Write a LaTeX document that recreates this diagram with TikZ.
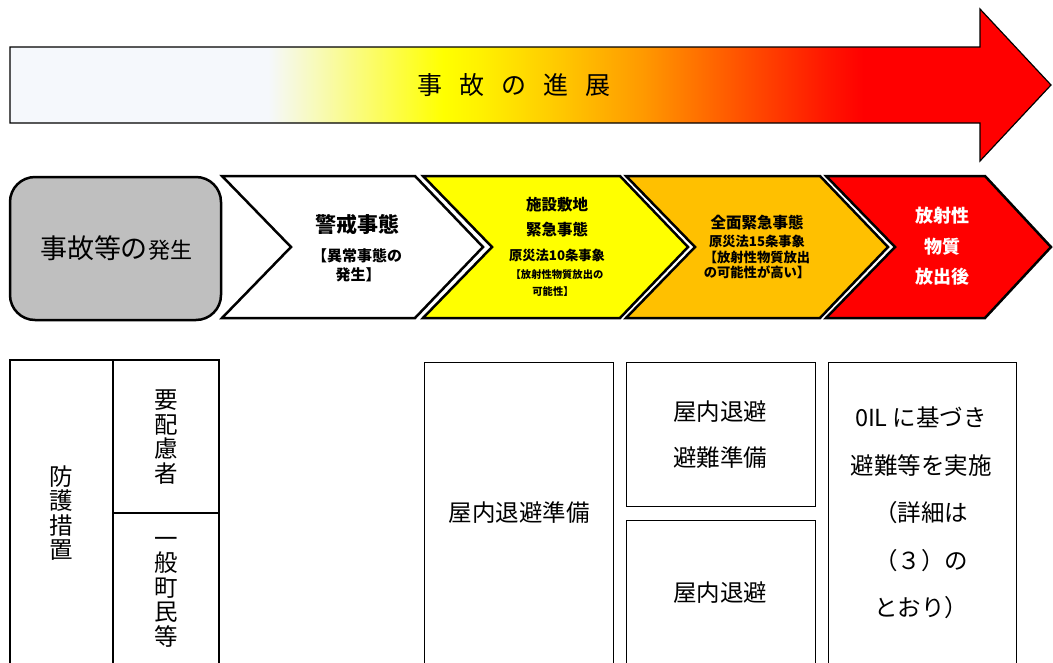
\documentclass[tikz,border=0pt]{standalone}
\usepackage{fontspec}
\setmainfont{Noto Sans CJK JP}
\definecolor{pale}{HTML}{F5F8FC}
\definecolor{ylwA}{HTML}{FFF000}
\definecolor{ylwB}{HTML}{FFC800}
\definecolor{orgA}{HTML}{FF9900}
\definecolor{orgB}{HTML}{FF5500}
\definecolor{redA}{HTML}{FF1500}
\definecolor{grayfill}{HTML}{BFBFBF}
\definecolor{chevY}{HTML}{FFFF00}
\definecolor{chevO}{HTML}{FFC000}
\definecolor{chevR}{HTML}{FF0000}
\pgfdeclarehorizontalshading{progress}{100bp}{color(0bp)=(pale); color(37.4bp)=(pale); color(40bp)=(pale!70!yellow); color(45.8bp)=(yellow); color(47.7bp)=(ylwA); color(51.4bp)=(ylwB); color(55.4bp)=(orgA); color(59.9bp)=(orgB); color(64.3bp)=(redA); color(66bp)=(red); color(100bp)=(red)}
\newcommand\setfs[2]{\fontsize{#1pt}{#2pt}\selectfont}
\tikzset{
  chev/.style={draw=black, line width=2.5pt, line join=miter},
  tbl/.style={draw=black, line width=2pt},
  thinbox/.style={draw=black, line width=1pt},
  lbl/.style={inner sep=0pt, outer sep=0pt, align=center},
  chevtxt/.style={lbl, font=\bfseries},
  tabtxt/.style={lbl, font=\setfs{23.5}{24.5}},
}
\begin{document}
\begin{tikzpicture}[x=1pt,y=-1pt]
\useasboundingbox (0,0) rectangle (1053,662);
\fill[white] (0,0) rectangle (1053,662);
% progress arrow
\path[shading=progress, draw=black, line width=1.2pt, line join=miter]
  (10,47) -- (980,47) -- (980,9) -- (1051,85) -- (980,161) -- (980,123) -- (10,123) -- cycle;
\node[lbl, font=\setfs{25}{25}] (prog) at (514,85) {事\hspace{17pt}故\hspace{17pt}の\hspace{17pt}進\hspace{17pt}展};
% start box
\draw[fill=grayfill, line width=2.5pt, rounded corners=25pt] (10,177) rectangle (221,320);
\node[lbl] (start) at (116,248) {\setfs{27}{27}事故等の\setfs{22}{22}発生};
% chevrons
\path[chev, fill=white] (222,176) -- (415,176) -- (483,247) -- (415,318) -- (222,318) -- (291,247) -- cycle;
\path[chev, fill=chevY] (423,176) -- (620,176) -- (688,247) -- (620,318) -- (423,318) -- (492,247) -- cycle;
\path[chev, fill=chevO] (626,176) -- (820,176) -- (888,247) -- (820,318) -- (626,318) -- (695,247) -- cycle;
\path[chev, fill=chevR] (826,176) -- (985,176) -- (1051,247) -- (985,318) -- (826,318) -- (895,247) -- cycle;
% chevron 1 text
\node[chevtxt, font=\bfseries\setfs{21}{21}] (k1) at (357,224) {警戒事態};
\node[chevtxt, font=\bfseries\setfs{15}{15}] (k2) at (357,256) {【異常事態の};
\node[chevtxt, font=\bfseries\setfs{15}{15}] (k3) at (358,275) {発生】};
% chevron 2 text
\node[chevtxt, font=\bfseries\setfs{15.5}{15.5}] (s1) at (557,205) {施設敷地};
\node[chevtxt, font=\bfseries\setfs{15.5}{15.5}] (s2) at (557,230) {緊急事態};
\node[chevtxt, font=\bfseries\setfs{13.3}{13.3}] (s3) at (557,255) {原災法10条事象};
\node[chevtxt, font=\bfseries\setfs{10.3}{10.3}] (s4) at (557,275) {【放射性物質放出の};
\node[chevtxt, font=\bfseries\setfs{10.3}{10.3}] (s5) at (553,292) {可能性】};
% chevron 3 text
\node[chevtxt, font=\bfseries\setfs{15.5}{15.5}] (z1) at (757,223) {全面緊急事態};
\node[chevtxt, font=\bfseries\setfs{13.3}{13.3}] (z2) at (757,241) {原災法15条事象};
\node[chevtxt, font=\bfseries\setfs{13.3}{13.3}] (z3) at (757,257) {【放射性物質放出};
\node[chevtxt, font=\bfseries\setfs{13.3}{13.3}] (z4) at (757,272) {の可能性が高い】};
% chevron 4 text
\node[chevtxt, text=white, font=\bfseries\setfs{18}{18}] (r1) at (942,216) {放射性};
\node[chevtxt, text=white, font=\bfseries\setfs{18}{18}] (r2) at (942,247) {物質};
\node[chevtxt, text=white, font=\bfseries\setfs{18}{18}] (r3) at (942,277) {放出後};
% table left
\draw[tbl] (10,665) -- (10,360) -- (219,360) -- (219,665);
\draw[tbl] (113,360) -- (113,665);
\draw[tbl] (113,513) -- (219,513);
\node[tabtxt] (bogo) at (61,513) {防\\護\\措\\置};
\node[tabtxt] (yoh) at (166,437) {要\\配\\慮\\者};
\node[tabtxt] (ippan) at (166,592) {一\\般\\町\\民\\等};
% right boxes
\draw[thinbox] (424,665) -- (424,362) -- (613,362) -- (613,665);
\draw[thinbox] (626,362) rectangle (815,506);
\draw[thinbox] (626,665) -- (626,520) -- (815,520) -- (815,665);
\draw[thinbox] (828,665) -- (828,362) -- (1016,362) -- (1016,665);
\node[lbl, font=\setfs{23.5}{24}] (ba) at (519,513) {屋内退避準備};
\node[lbl, font=\setfs{23.5}{46}] (bb) at (720,435) {屋内退避\\避難準備};
\node[lbl, font=\setfs{23.5}{24}] (bc) at (720,593) {屋内退避};
\node[lbl, font=\setfs{23.5}{47.5}] (bd) at (921,513) {0IL に基づき\\避難等を実施\\（詳細は\\（３）の\\とおり）};
\end{tikzpicture}
\end{document}
